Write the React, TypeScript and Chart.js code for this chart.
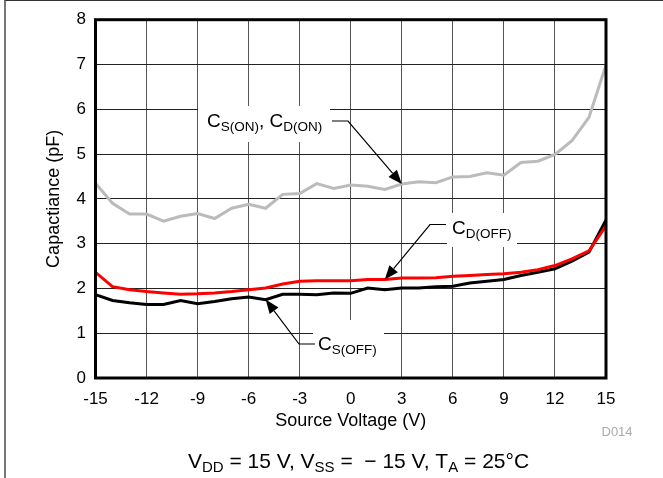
import React, { useEffect, useRef } from "react";
import { Chart, registerables } from "chart.js";

Chart.register(...registerables);

const voltage = [-15, -14, -13, -12, -11, -10, -9, -8, -7, -6, -5, -4, -3, -2, -1, 0, 1, 2, 3, 4, 5, 6, 7, 8, 9, 10, 11, 12, 13, 14, 15];
const csdOn = [4.35, 3.9, 3.66, 3.66, 3.5, 3.61, 3.67, 3.56, 3.79, 3.88, 3.79, 4.1, 4.12, 4.34, 4.23, 4.31, 4.28, 4.21, 4.33, 4.38, 4.36, 4.49, 4.5, 4.58, 4.53, 4.81, 4.84, 4.99, 5.3, 5.82, 6.99];
const cdOff = [2.36, 2.04, 1.97, 1.93, 1.9, 1.87, 1.88, 1.9, 1.93, 1.97, 2.01, 2.1, 2.16, 2.17, 2.17, 2.17, 2.2, 2.2, 2.23, 2.23, 2.24, 2.27, 2.29, 2.31, 2.33, 2.36, 2.42, 2.51, 2.66, 2.84, 3.4];
const csOff = [1.86, 1.73, 1.68, 1.64, 1.64, 1.73, 1.66, 1.71, 1.77, 1.81, 1.75, 1.87, 1.87, 1.86, 1.9, 1.89, 2.01, 1.97, 2.01, 2.01, 2.04, 2.05, 2.12, 2.16, 2.2, 2.29, 2.36, 2.44, 2.61, 2.81, 3.53];
const xTicks = [-15, -12, -9, -6, -3, 0, 3, 6, 9, 12, 15];

const FONT = "'Liberation Sans', Arial, Helvetica, sans-serif";

type Part = [string, boolean];

function drawSub(ctx: CanvasRenderingContext2D, x: number, y: number, parts: Part[], main: number, sub: number, dy: number, color = "#000") {
  ctx.save();
  ctx.fillStyle = color;
  ctx.textBaseline = "alphabetic";
  ctx.textAlign = "left";
  let cx = x;
  for (const [t, s] of parts) {
    ctx.font = `${s ? sub : main}px ${FONT}`;
    ctx.fillText(t, cx, s ? y + dy : y);
    cx += ctx.measureText(t).width;
  }
  ctx.restore();
}

function arrow(ctx: CanvasRenderingContext2D, pts: number[][]) {
  ctx.save();
  ctx.strokeStyle = "#000";
  ctx.fillStyle = "#000";
  ctx.lineWidth = 1.2;
  const n = pts.length;
  const [tx, ty] = pts[n - 1];
  const [px, py] = pts[n - 2];
  const ang = Math.atan2(ty - py, tx - px);
  const L = 14, W = 5.5;
  ctx.beginPath();
  ctx.moveTo(pts[0][0], pts[0][1]);
  for (let i = 1; i < n - 1; i++) ctx.lineTo(pts[i][0], pts[i][1]);
  ctx.lineTo(tx - Math.cos(ang) * L, ty - Math.sin(ang) * L);
  ctx.stroke();
  ctx.beginPath();
  ctx.moveTo(tx, ty);
  ctx.lineTo(tx - Math.cos(ang) * L - Math.sin(ang) * W, ty - Math.sin(ang) * L + Math.cos(ang) * W);
  ctx.lineTo(tx - Math.cos(ang) * L + Math.sin(ang) * W, ty - Math.sin(ang) * L - Math.cos(ang) * W);
  ctx.closePath();
  ctx.fill();
  ctx.restore();
}

const decor = {
  id: "decor",
  beforeDatasetsDraw(chart: any) {
    const ctx = chart.ctx as CanvasRenderingContext2D;
    ctx.save();
    ctx.fillStyle = "#fff";
    ctx.fillRect(198, 106, 132, 36);
    ctx.fillRect(447, 213, 70, 34);
    ctx.fillRect(313, 320, 71, 57);
    ctx.restore();
  },
  afterDatasetsDraw(chart: any) {
    const ctx = chart.ctx as CanvasRenderingContext2D;
    const a = chart.chartArea;
    const xs = chart.scales.x;
    const ys = chart.scales.y;
    ctx.save();
    ctx.strokeStyle = "#000";
    ctx.lineWidth = 3;
    ctx.strokeRect(a.left, a.top, a.right - a.left, a.bottom - a.top);
    ctx.restore();

    const iOn = voltage.indexOf(3);
    const iDOff = voltage.indexOf(2);
    const iSOff = voltage.indexOf(-5);
    arrow(ctx, [[332, 121], [348, 121], [xs.getPixelForValue(voltage[iOn]), ys.getPixelForValue(csdOn[iOn])]]);
    arrow(ctx, [[446, 224.5], [430, 224.5], [xs.getPixelForValue(voltage[iDOff]), ys.getPixelForValue(cdOff[iDOff])]]);
    arrow(ctx, [[315, 344], [299, 344], [xs.getPixelForValue(voltage[iSOff]), ys.getPixelForValue(csOff[iSOff])]]);

    drawSub(ctx, 207, 127, [["C", false], ["S(ON)", true], [", C", false], ["D(ON)", true]], 19, 13.5, 4);
    drawSub(ctx, 452, 233.5, [["C", false], ["D(OFF)", true]], 19, 13.5, 4);
    drawSub(ctx, 318, 350, [["C", false], ["S(OFF)", true]], 19, 13.5, 4);

    // axis titles
    ctx.save();
    ctx.fillStyle = "#000";
    ctx.font = `18px ${FONT}`;
    ctx.textAlign = "center";
    ctx.textBaseline = "alphabetic";
    ctx.fillText("Source Voltage (V)", (a.left + a.right) / 2, 426);
    ctx.translate(59, (a.top + a.bottom) / 2);
    ctx.rotate(-Math.PI / 2);
    ctx.fillText("Capactiance (pF)", 0, 0);
    ctx.restore();

    ctx.save();
    ctx.fillStyle = "#aaa";
    ctx.font = `13px ${FONT}`;
    ctx.textAlign = "left";
    ctx.fillText("D014", 601.5, 435.5);
    ctx.restore();

    drawSub(ctx, 188, 468, [["V", false], ["DD", true], [" = 15 V, V", false], ["SS", true], [" =  \u2212 15 V, T", false], ["A", true], [" = 25\u00B0C", false]], 21, 15, 4);
  },
};

export default function App() {
  const ref = useRef<HTMLCanvasElement>(null);
  useEffect(() => {
    if (!ref.current) return;
    const mk = (vals: number[]) => voltage.map((v, i) => ({ x: v, y: vals[i] }));
    const chart = new Chart(ref.current, {
      type: "line",
      data: {
        datasets: [
          { label: "CD(OFF)", data: mk(cdOff), borderColor: "#ff0000", borderWidth: 3, pointRadius: 0, tension: 0 },
          { label: "CS(OFF)", data: mk(csOff), borderColor: "#000000", borderWidth: 3, pointRadius: 0, tension: 0 },
          { label: "CS(ON), CD(ON)", data: mk(csdOn), borderColor: "#bbbbbb", borderWidth: 3, pointRadius: 0, tension: 0 },
        ],
      },
      plugins: [decor],
      options: {
        animation: false,
        responsive: true,
        maintainAspectRatio: false,
        devicePixelRatio: 1,
        layout: { padding: { left: 0, right: 57, top: 18.5, bottom: 0 } },
        plugins: { legend: { display: false }, tooltip: { enabled: false }, title: { display: false } },
        scales: {
          x: {
            type: "linear",
            min: -15,
            max: 15,
            afterBuildTicks: (s: any) => { s.ticks = xTicks.map((v) => ({ value: v })); },
            afterFit: (s: any) => { s.height = 100; },
            ticks: { color: "#000", font: { family: FONT, size: 17 }, padding: 11, maxRotation: 0, autoSkip: false },
            grid: { color: "#555", lineWidth: 1, drawTicks: false },
            border: { display: false },
          },
          y: {
            type: "linear",
            min: 0,
            max: 8,
            afterFit: (s: any) => { s.width = 95.5; },
            ticks: { stepSize: 1, color: "#000", font: { family: FONT, size: 17 }, padding: 9.5 },
            grid: { color: "#222", lineWidth: 1, drawTicks: false },
            border: { display: false },
          },
        },
      },
    });
    return () => chart.destroy();
  }, []);
  return (
    <div style={{ position: "absolute", left: 0, top: 0, width: 663, height: 478, background: "#fff", overflow: "hidden" }}>
      <div style={{ position: "absolute", left: 4, top: 0, width: 700, height: 600, borderLeft: "2px solid #777", borderTop: "1.5px solid #333", boxSizing: "border-box" }} />
      <canvas ref={ref} style={{ position: "absolute", left: 0, top: 0, width: 663, height: 478 }} />
    </div>
  );
}
